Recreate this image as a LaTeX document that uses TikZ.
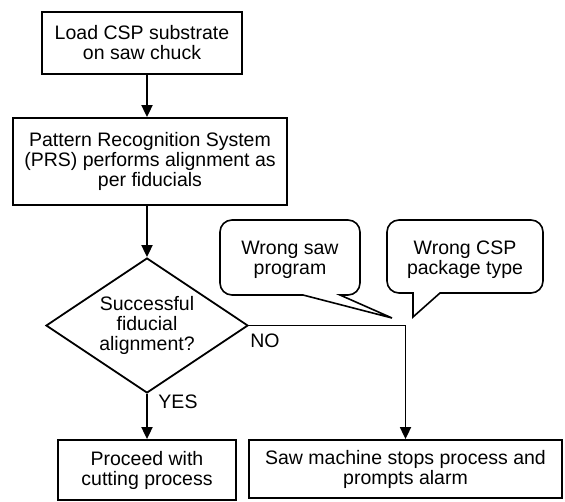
\documentclass[tikz,border=0pt]{standalone}
\usepackage{fontspec}
\setmainfont{Liberation Sans}
\usetikzlibrary{shapes.geometric,arrows.meta}
\begin{document}
\begin{tikzpicture}[x=1pt,y=-1pt,
  every node/.style={font=\fontsize{19.5}{20}\selectfont, align=center},
  box/.style={draw, line width=1.8pt, inner sep=0pt},
  dec/.style={draw, diamond, aspect=1.5, line width=1.8pt, inner sep=0pt,
              minimum width=202pt, minimum height=135pt},
  conn/.style={line width=1.8pt, -{Triangle[length=12pt,width=11pt]}},
  bubble/.style={line width=1.6pt, line join=miter},
  lbl/.style={inner sep=0pt}]
\useasboundingbox (0,0) rectangle (565,501);
\fill[white] (0,0) rectangle (565,501);

\node[box, minimum width=200pt, minimum height=62pt] (load) at (142,43)
  {Load CSP substrate\\on saw chuck};
\node[box, minimum width=274pt, minimum height=87pt] (prs) at (150,161.5)
  {Pattern Recognition System\\(PRS) performs alignment as\\per fiducials};
\node[dec] (d) at (147,325.5) {Successful\\fiducial\\alignment?};
\node[box, minimum width=178pt, minimum height=60pt] (proceed) at (147,470)
  {Proceed with\\cutting process};
\node[box, minimum width=313pt, minimum height=58pt] (alarm) at (405.5,469)
  {Saw machine stops process and\\prompts alarm};

\draw[conn] (load.south -| d.north) -- (prs.north -| d.north);
\draw[conn] (prs.south -| d.north) -- (d.north);
\draw[conn] (d.south) -- (proceed.north);
\draw[conn] (d.east) -- (d.east -| alarm.north) -- (alarm.north);

\node[lbl] (yes) at (178,402) {YES};
\node[lbl] (no) at (265,341) {NO};

% callouts
\node[lbl] (c1) at (290,260) {Wrong saw\\program};
\draw[bubble] (303,295) -- (232,295) arc[start angle=90,end angle=180,radius=12]
  -- (220,232) arc[start angle=180,end angle=270,radius=12]
  -- (348,220) arc[start angle=270,end angle=360,radius=12]
  -- (360,283) arc[start angle=0,end angle=90,radius=12]
  -- (340,295) -- (392,318) -- cycle;

\node[lbl] (c2) at (465,260) {Wrong CSP\\package type};
\draw[bubble] (440,293) -- (531,293) arc[start angle=90,end angle=0,radius=12]
  -- (543,232) arc[start angle=0,end angle=-90,radius=12]
  -- (399,220) arc[start angle=-90,end angle=-180,radius=12]
  -- (387,281) arc[start angle=180,end angle=90,radius=12]
  -- (413,293) -- (413,317) -- cycle;
\end{tikzpicture}
\end{document}
